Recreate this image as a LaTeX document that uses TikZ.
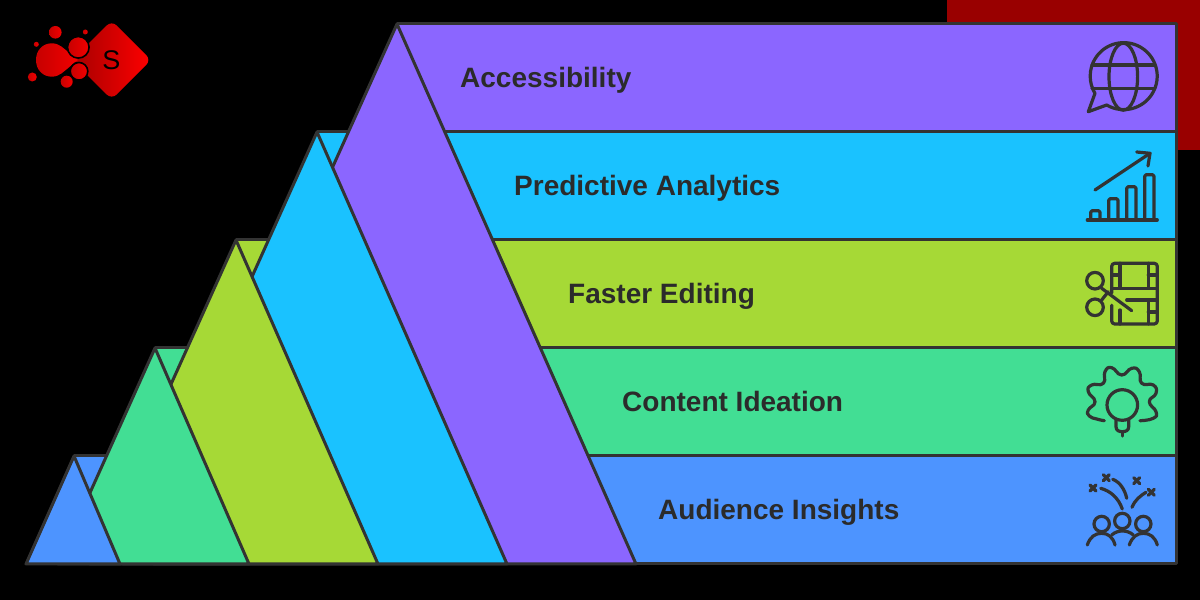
\documentclass[tikz,border=0pt]{standalone}
\usepackage{fontspec}
\setmainfont{Liberation Sans}
\definecolor{inkgrey}{HTML}{333333}
\definecolor{bandpurple}{HTML}{8B66FF}
\definecolor{bandcyan}{HTML}{1AC2FF}
\definecolor{bandlime}{HTML}{A6D936}
\definecolor{bandgreen}{HTML}{42DE94}
\definecolor{bandblue}{HTML}{4D94FF}
\definecolor{cornerred}{HTML}{990000}
\tikzset{
  bandline/.style={draw=inkgrey,line width=3pt,line join=round},
  bandtext/.style={anchor=base west,inner sep=0pt,text=inkgrey!85!black,font=\fontsize{28}{30}\selectfont\bfseries},
  icon/.style={draw=inkgrey,line width=3.2pt,line cap=round,line join=round},
  logoball/.style={left color=red!78!black,right color=red!95!black},
}
\begin{document}
\begin{tikzpicture}[x=1pt,y=1pt]
  \useasboundingbox (0,0) rectangle (1200,600);
  \fill[black] (0,0) rectangle (1200,600);
  \fill[cornerred] (947,450) rectangle (1200,600);
  % bands, top one first
  \foreach \ax/\ay/\col in {397/576/bandpurple,317/468/bandcyan,236/360/bandlime,155/252/bandgreen,74/144/bandblue}
    \path[bandline,fill=\col] (\ax,\ay) -- (1176,\ay) -- (1176,\ay-108) -- (\ax,\ay-108) -- cycle;
  % peaks, each one lies over the one before
  \foreach \ax/\ay/\lx/\rx/\col in {397/576/154/636/bandpurple,317/468/123/507/bandcyan,236/360/90/378/bandlime,155/252/58/249/bandgreen,74/144/26/120/bandblue}
    \path[bandline,fill=\col] (\ax,\ay) -- (\rx,36) -- (\lx,36) -- cycle;
  \path (460,512) node[bandtext] (accessibility) {Accessibility};
  \path (514,404) node[bandtext] (analytics) {Predictive Analytics};
  \path (568,296) node[bandtext] (editing) {Faster Editing};
  \path (622,188) node[bandtext] (ideation) {Content Ideation};
  \path (658,80) node[bandtext] (insights) {Audience Insights};
  % globe
  \draw[icon] (1106.7,495) arc[start angle=239.5,end angle=571,radius=33.5] -- (1088.3,488.3) -- cycle;
  \draw[icon] (1123.3,523.3) ellipse[x radius=14.3,y radius=33.5];
  \draw[icon] (1092,535) -- (1154.7,535);
  \draw[icon] (1092,511.3) -- (1154.7,511.3);
  % chart
  \draw[icon] (1087.3,380) -- (1157.3,380);
  \foreach \bx/\by in {1090.7/389.3,1108.7/401.3,1126.7/413.3,1144.7/425.3}
    \draw[icon,rounded corners=1.5pt] (\bx,380) -- (\bx,\by) -- (\bx+9.3,\by) -- (\bx+9.3,380);
  \draw[icon] (1095,410) -- (1150,446.7);
  \draw[icon] (1136.7,448) -- (1150,446.7) -- (1148,434);
  % film and scissors
  \draw[icon,rounded corners=3pt] (1111.7,307) -- (1111.7,336.7) -- (1157.3,336.7) -- (1157.3,276) -- (1111.7,276) -- (1111.7,294.7);
  \draw[icon] (1111.7,311.7) -- (1157.3,311.7);
  \draw[icon] (1126.7,300) -- (1157.3,300);
  \draw[icon] (1120,336.7) -- (1120,311.7);
  \draw[icon] (1120,290) -- (1120,276);
  \draw[icon] (1148.3,336.7) -- (1148.3,311.7);
  \draw[icon] (1148.3,300) -- (1148.3,276);
  \draw[icon] (1111.7,325) -- (1120,325);
  \draw[icon] (1148.3,325) -- (1157.3,325);
  \draw[icon] (1148.3,288) -- (1157.3,288);
  \draw[icon] (1095,319.3) circle[radius=8.3];
  \draw[icon] (1095,292.7) circle[radius=8.3];
  \draw[icon] (1101.7,311.7) -- (1131.7,289.3);
  \draw[icon] (1101.7,300) -- (1108.3,308.3);
  % gear and bulb
  \draw[icon] plot[smooth,tension=0.9] coordinates {(1104.3,179.3) (1096.7,181) (1089.3,184) (1088.3,190) (1095,198.3) (1088.3,208.3) (1091.7,215) (1103.3,216.7) (1105,228.3) (1111.7,232.3) (1121.7,225) (1131.7,231.7) (1139.3,228.3) (1141.7,216.7) (1153.3,215) (1156,206.7) (1149.3,198.3) (1156,188.3) (1153.3,181.7) (1140,179.3)};
  \draw[icon] (1122.3,195) circle[radius=15.3];
  \draw[icon] (1116,180) -- (1116,173.3) .. controls (1116,169.5) and (1119,168.3) .. (1122.3,168.3) .. controls (1125.6,168.3) and (1128.7,169.5) .. (1128.7,173.3) -- (1128.7,180);
  \draw[icon] (1122.3,168.3) -- (1122.3,164);
  % audience
  \foreach \hx/\hy in {1101.7/76,1122.3/79,1143.3/76}
    \draw[icon] (\hx,\hy) circle[radius=7.7];
  \draw[icon] (1087.3,55) .. controls (1090,63) and (1095,66.7) .. (1101.7,66.7) .. controls (1108,66.7) and (1113,63) .. (1115,55);
  \draw[icon] (1111.7,65) .. controls (1115,68) and (1119,69) .. (1122.3,69) .. controls (1126,69) and (1130,68) .. (1133.3,65);
  \draw[icon] (1129.3,55) .. controls (1132,63) and (1137,66.7) .. (1143.3,66.7) .. controls (1150,66.7) and (1155,63) .. (1157.3,55);
  \draw[icon] (1100.7,111.7) .. controls (1110,109) and (1118,103) .. (1122.3,91);
  \draw[icon] (1112.7,120.7) .. controls (1120,118) and (1125,110) .. (1126.7,101.7);
  \draw[icon] (1146,107.7) .. controls (1140,104) and (1135,100) .. (1132,92.7);
  \foreach \cx/\cy in {1093/112,1106.3/122.3,1136.7/119.3,1151.3/107.7} {
    \draw[icon] (\cx-3,\cy-3) -- (\cx+3,\cy+3);
    \draw[icon] (\cx-3,\cy+3) -- (\cx+3,\cy-3);
  }
  % logo
  \shade[left color=red!65!black,right color=red,rounded corners=7pt] (111.7,579.5) -- (151.2,540) -- (111.7,500.5) -- (72.2,540) -- cycle;
  \path (111.5,539.5) node[inner sep=0pt,text=black,font=\fontsize{27}{27}\selectfont] (logoletter) {S};
  \shade[logoball] (36,540) .. controls (36,550) and (43,556.7) .. (51.7,556.7) .. controls (60,556.7) and (64,551) .. (70,546.5) .. controls (74,543) and (76,541) .. (78,540) .. controls (76,539) and (74,537) .. (70,533.5) .. controls (64,529) and (60,523.3) .. (51.7,523.3) .. controls (43,523.3) and (36,530) .. (36,540) -- cycle;
  \shade[logoball,draw=black,line width=1.6pt] (78.3,552.7) circle[radius=10.8];
  \shade[logoball,draw=black,line width=1.6pt] (79,528.7) circle[radius=8.8];
  \foreach \bx/\by/\br in {55.3/567.7/6.3,85.3/568/2.5,36.3/555.7/2.5,32.3/523/4.5,66.7/518.3/6}
    \shade[logoball] (\bx,\by) circle[radius=\br];
\end{tikzpicture}
\end{document}
